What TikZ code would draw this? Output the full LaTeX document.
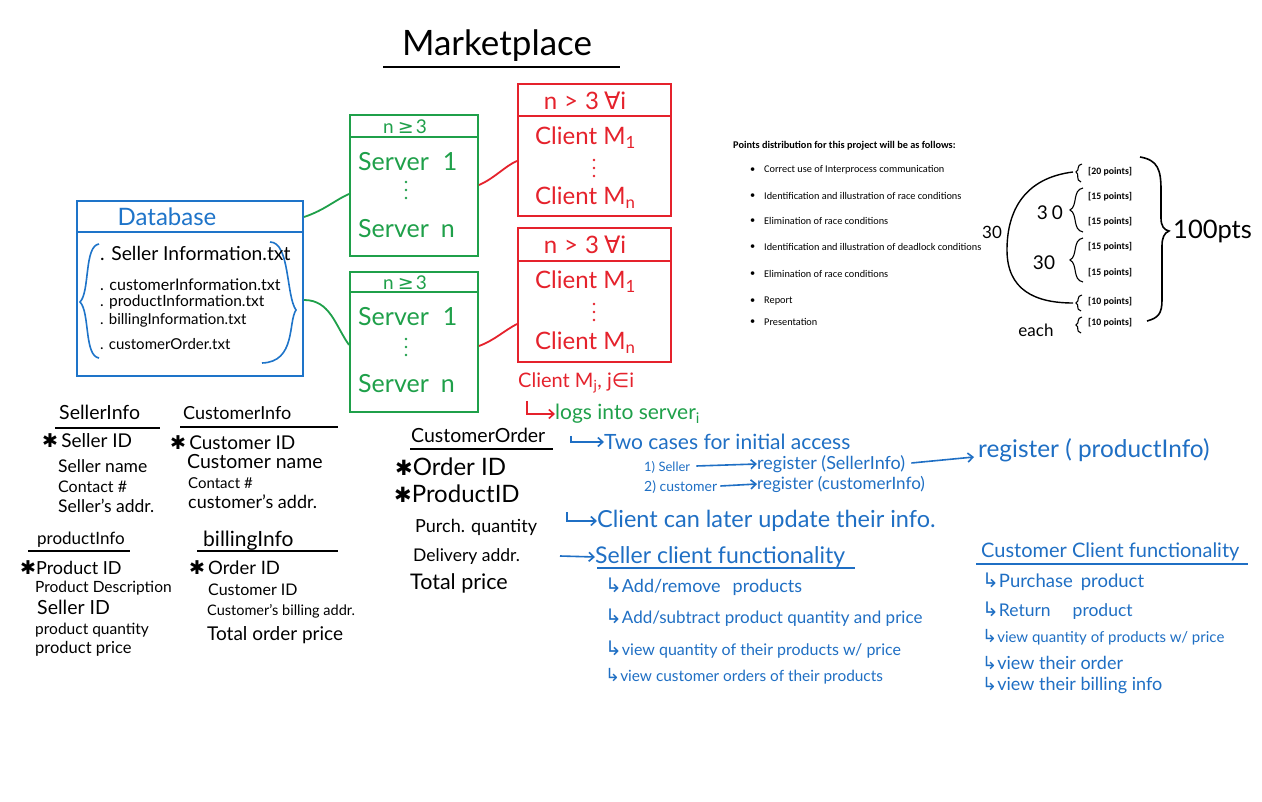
\documentclass[tikz,border=0pt]{standalone}
\usepackage{fontspec}
\setmainfont{Lato}
\newfontfamily\calib{Carlito}
\newfontfamily\dvs{DejaVu Sans}
\usetikzlibrary{calc,arrows.meta,decorations.pathreplacing}
\definecolor{pblue}{HTML}{1F6FC4}
\definecolor{dbblue}{HTML}{1E74C9}
\definecolor{pgreen}{HTML}{1FA04A}
\definecolor{pred}{HTML}{E5222C}
\newcommand\hsz[1]{\fontsize{#1}{#1}\selectfont}
\newcommand\hk[1][20]{{\dvs\hsz{#1}↳}}
\newcommand\st[1][19]{{\dvs\hsz{#1}✱}}
\tikzset{
  t/.style={inner sep=0pt, anchor=west},
  tc/.style={inner sep=0pt, anchor=center},
  boxn/.style={draw, line width=2, inner sep=0pt},
  conn/.style={line width=1.8},
  harrow/.style={line width=1.6, -{Straight Barb[length=5pt,width=9pt]}},
  ul/.style={line width=1.5},
  pts/.style={inner sep=0pt, anchor=west, font=\calib\bfseries\hsz{9.8}},
  bul/.style={inner sep=0pt, anchor=west, font=\calib\hsz{10.3}},
  sbrace/.style={line width=1.1},
  vdot/.style={circle, fill, inner sep=0pt, minimum size=2.6},
}
\begin{document}
\begin{tikzpicture}[x=1pt,y=-1pt]
\useasboundingbox (0,0) rectangle (1262,802);
\fill[white] (0,0) rectangle (1262,802);

% Title
\node[tc] (title) at (497,46) {\hsz{35}Marketplace};
\draw[ul] (383,67) -- (620,67);

% Database
\node[boxn, draw=dbblue, minimum width=226, minimum height=175] (db) at (190,288.5) {};
\draw[dbblue, line width=2] ($(db.north west)+(0,32)$) -- ($(db.north east)+(0,32)$);
\node[tc, dbblue] (dbt) at (167,217) {\hsz{24}Database};
\draw[dbblue, line width=1.6] (99,244) .. controls (84,246) and (90,292) .. (80,302) .. controls (90,312) and (84,356) .. (99,358);
\draw[dbblue, line width=1.6] (270,242) .. controls (290,242) and (286,296) .. (296,310) .. controls (288,322) and (296,362) .. (262,363);
\node[t] (f1) at (100,253) {\hsz{19.3}. Seller Information.txt};
\node[t] (f2) at (100,285) {\hsz{16}. customerInformation.txt};
\node[t] (f3) at (100,302) {\hsz{15.5}. productInformation.txt};
\node[t] (f4) at (100,320) {\hsz{15}. billingInformation.txt};
\node[t] (f5) at (100,344) {\hsz{15}. customerOrder.txt};

% Servers
\node[boxn, draw=pgreen, minimum width=128, minimum height=141] (s1) at (414,185.5) {};
\draw[pgreen, line width=2] ($(s1.north west)+(0,23)$) -- ($(s1.north east)+(0,23)$);
\node[tc, pgreen] (s1h) at (405,127) {\hsz{19}n\hspace{4pt}{\dvs ≥}\hspace{2pt}3};
\node[t, pgreen] (s1a) at (358,162) {\hsz{25}Server\hspace{14pt}1};
\node[t, pgreen] (s1b) at (358,229) {\hsz{25}Server\hspace{12pt}n};
\foreach \dy in {-8,0,8} \node[vdot, pgreen] at (406,190+\dy) {};

\node[boxn, draw=pgreen, minimum width=128, minimum height=140] (s2) at (414,342) {};
\draw[pgreen, line width=2] ($(s2.north west)+(0,21)$) -- ($(s2.north east)+(0,21)$);
\node[tc, pgreen] (s2h) at (405,283) {\hsz{19}n\hspace{4pt}{\dvs ≥}\hspace{2pt}3};
\node[t, pgreen] (s2a) at (358,317) {\hsz{25}Server\hspace{14pt}1};
\node[t, pgreen] (s2b) at (358,384) {\hsz{25}Server\hspace{12pt}n};
\foreach \dy in {-8,0,8} \node[vdot, pgreen] at (406,347+\dy) {};

% Clients
\node[boxn, draw=pred, minimum width=153, minimum height=132] (c1) at (594.5,150) {};
\draw[pred, line width=2] ($(c1.north west)+(0,33)$) -- ($(c1.north east)+(0,33)$);
\node[tc, pred] (c1h) at (585,101) {\hsz{24}n\hspace{7pt}>\hspace{7pt}3\hspace{5pt}{\dvs ∀}i};
\node[t, pred] (c1a) at (535,138) {\hsz{24}Client M\textsubscript{1}};
\node[t, pred] (c1b) at (535,198) {\hsz{24}Client M\textsubscript{n}};
\foreach \dy in {-8,0,8} \node[vdot, pred] at (594,168+\dy) {};

\node[boxn, draw=pred, minimum width=153, minimum height=134] (c2) at (594.5,295) {};
\draw[pred, line width=2] ($(c2.north west)+(0,34)$) -- ($(c2.north east)+(0,34)$);
\node[tc, pred] (c2h) at (585,245) {\hsz{24}n\hspace{7pt}>\hspace{7pt}3\hspace{5pt}{\dvs ∀}i};
\node[t, pred] (c2a) at (535,282) {\hsz{24}Client M\textsubscript{1}};
\node[t, pred] (c2b) at (535,343) {\hsz{24}Client M\textsubscript{n}};
\foreach \dy in {-8,0,8} \node[vdot, pred] at (594,312+\dy) {};

% Connectors
\draw[pgreen, conn] ($(db.north east)+(0,17)$) .. controls (325,210) and (335,200) .. ($(s1.north west)+(0,80)$);
\draw[pgreen, conn] ($(db.north east)+(0,100)$) .. controls (330,300) and (335,325) .. ($(s2.north west)+(0,74)$);
\draw[pred, conn] ($(s1.north east)+(0,71)$) .. controls (495,178) and (505,166) .. ($(c1.north west)+(0,78)$);
\draw[pred, conn] ($(s2.north east)+(0,75)$) .. controls (495,340) and (505,330) .. ($(c2.north west)+(0,97)$);

% Client Mj
\node[t, pred] (cmj) at (518,383) {\hsz{20}Client M\textsubscript{j}, j{\dvs ∈}i};
\node[t, pgreen] (logs) at (555,414) {\hsz{21}logs into server\textsubscript{i}};
\coordinate (la) at (527,401);
\draw[pred, harrow] (la) |- (logs.west);

% Customer order
\node[t] (cot) at (411,435) {\hsz{19.5}CustomerOrder};
\draw[ul] (410,449) -- (553,449);
\node[t] (co1) at (395,467) {\hsz{24}\st[21]Order ID};
\node[t] (co2) at (394,494) {\hsz{24}\st[21]ProductID};
\node[t] (co3) at (415,527) {\hsz{18}Purch. quantity};
\node[t] (co4) at (413,557) {\hsz{17.5}Delivery addr.};
\node[t] (co5) at (410,583) {\hsz{21.5}Total price};

% Blue notes
\node[t, pblue] (two) at (604,442) {\hsz{21}Two cases for initial access};
\coordinate (lb) at (571,436);
\draw[pblue, harrow] (lb) |- (two.west);
\node[t, pblue] (sel) at (644,467) {\hsz{13}1) Seller};
\node[t, pblue] (regs) at (757,464) {\hsz{18}register (SellerInfo)};
\draw[pblue, harrow] ($(sel.east)+(6,-1)$) -- (regs.west);
\node[t, pblue] (regp) at (978,450) {\hsz{24.4}register ( productInfo)};
\draw[pblue, harrow] ($(regs.east)+(6,-1)$) -- ($(regp.west)+(-4,7)$);
\node[t, pblue] (cus) at (644,487) {\hsz{14}2) customer};
\node[t, pblue] (regc) at (757,484) {\hsz{17}register (customerInfo)};
\draw[pblue, harrow] ($(cus.east)+(3,-1)$) -- (regc.west);

\node[t, pblue] (upd) at (597,521) {\hsz{23.5}Client can later update their info.};
\coordinate (lc) at (567,512);
\draw[pblue, harrow] (lc) |- (upd.west);

\node[t, pblue] (sf) at (595,557) {\hsz{23}Seller client functionality};
\coordinate (ld) at (560,556);
\draw[pblue, harrow] (ld) -- (sf.west);
\draw[pblue, ul] (597,568) -- (855,568);
\node[t, pblue] (sf1) at (605,587) {\hsz{18}\hk Add/remove\hspace{12pt}products};
\node[t, pblue] (sf2) at (605,618) {\hsz{17}\hk Add/subtract product quantity and price};
\node[t, pblue] (sf3) at (605,650) {\hsz{16}\hk view quantity of their products w/ price};
\node[t, pblue] (sf4) at (605,676) {\hsz{15.4}\hk[18]view customer orders of their products};

\node[t, pblue] (cf) at (981,552) {\hsz{20}Customer Client functionality};
\draw[pblue, ul] (976,564) -- (1248,564);
\node[t, pblue] (cf1) at (982,582) {\hsz{18.5}\hk Purchase\hspace{8pt}product};
\node[t, pblue] (cf2) at (982,611) {\hsz{17.5}\hk Return\hspace{22pt}product};
\node[t, pblue] (cf3) at (982,637) {\hsz{15}\hk[18]view quantity of products w/ price};
\node[t, pblue] (cf4) at (982,663) {\hsz{18}\hk[18]view their order};
\node[t, pblue] (cf5) at (982,686) {\hsz{18}\hk[18]view their billing info};

% SellerInfo / CustomerInfo
\node[t] (si) at (59,412) {\hsz{19.5}SellerInfo};
\draw[ul] (55,428) -- (160,428);
\node[t] (si1) at (42,441) {\hsz{19}\st\,Seller ID};
\node[t] (si2) at (58,466) {\hsz{17.5}Seller name};
\node[t] (si3) at (58,487) {\hsz{16}Contact \#};
\node[t] (si4) at (58,506) {\hsz{17.5}Seller's addr.};

\node[t] (ci) at (183,413) {\hsz{18}CustomerInfo};
\draw[ul] (180,427) -- (338,427);
\node[t] (ci1) at (170,443) {\hsz{19}\st\,Customer ID};
\node[t] (ci2) at (187,462) {\hsz{19.5}Customer name};
\node[t] (ci3) at (188,483) {\hsz{15}Contact \#};
\node[t] (ci4) at (188,502) {\hsz{18}customer's addr.};

% productInfo / billingInfo
\node[t] (pi) at (37,540) {\hsz{17}productInfo};
\draw[ul] (28,551) -- (130,551);
\node[t] (pi1) at (20,568) {\hsz{18}\st Product ID};
\node[t] (pi2) at (35,588) {\hsz{15.5}Product Description};
\node[t] (pi3) at (37,607) {\hsz{19.5}Seller ID};
\node[t] (pi4) at (35,630) {\hsz{15.5}product quantity};
\node[t] (pi5) at (35,649) {\hsz{16.5}product price};

\node[t] (bi) at (203,541) {\hsz{21}billingInfo};
\draw[ul] (197,551) -- (338,551);
\node[t] (bi1) at (189,568) {\hsz{18.5}\st\,Order ID};
\node[t] (bi2) at (208,590) {\hsz{16}Customer ID};
\node[t] (bi3) at (207,611) {\hsz{14.5}Customer's billing addr.};
\node[t] (bi4) at (207,635) {\hsz{19}Total order price};

% Points distribution
\node[inner sep=0pt, anchor=west, font=\calib\bfseries\hsz{10.3}] (ph) at (733,146) {Points distribution for this project will be as follows:};
\foreach \y/\txt [count=\i] in {170/Correct use of Interprocess communication,196/Identification and illustration of race conditions,221/Elimination of race conditions,247/Identification and illustration of deadlock conditions,274/Elimination of race conditions,301/Report,322/Presentation}{
  \node[bul] (b\i) at (750,\y) {\textbullet};
  \node[bul] (p\i) at (764,\y) {\txt};
}
\node[pts] (q1) at (1088,172) {[20 points]};
\node[pts] (q2) at (1088,197) {[15 points]};
\node[pts] (q3) at (1088,222) {[15 points]};
\node[pts] (q4) at (1088,247) {[15 points]};
\node[pts] (q5) at (1088,273) {[15 points]};
\node[pts] (q6) at (1088,302) {[10 points]};
\node[pts] (q7) at (1088,323) {[10 points]};

\draw[sbrace] (1082,164) .. controls (1076,165) and (1080,170) .. (1076,172) .. controls (1080,174) and (1075,180) .. (1081,182);
\draw[sbrace] (1083,188) .. controls (1072,190) and (1078,206) .. (1070,210) .. controls (1078,214) and (1072,230) .. (1083,232);
\draw[sbrace] (1083,238) .. controls (1072,240) and (1078,256) .. (1070,260) .. controls (1078,264) and (1072,280) .. (1083,282);
\draw[sbrace] (1082,295) .. controls (1076,296) and (1080,301) .. (1076,303) .. controls (1080,305) and (1075,309) .. (1081,311);
\draw[sbrace] (1082,317) .. controls (1076,318) and (1080,323) .. (1076,325) .. controls (1080,327) and (1075,331) .. (1081,333);
\draw[line width=1.4] (1073,172) .. controls (1025,178) and (1007,210) .. (1007,250) .. controls (1007,290) and (1035,303) .. (1073,303);
\draw[line width=1.6] (1140,157) .. controls (1158,160) and (1161,170) .. (1161,190) -- (1161,218) .. controls (1161,226) and (1164,230) .. (1169,231) .. controls (1164,233) and (1162,238) .. (1162,246) -- (1162,300) .. controls (1162,314) and (1158,318) .. (1147,321);
\node[tc] (l30a) at (1050,213) {\hsz{19}3\hspace{4pt}0};
\node[tc] (l30b) at (1044,263) {\hsz{19}30};
\node[tc] (l30c) at (992,232) {\hsz{17}30};
\node[tc] (each) at (1036,330) {\hsz{17}each};
\node[t] (hund) at (1173,231) {\hsz{25.5}100pts};
\end{tikzpicture}
\end{document}
